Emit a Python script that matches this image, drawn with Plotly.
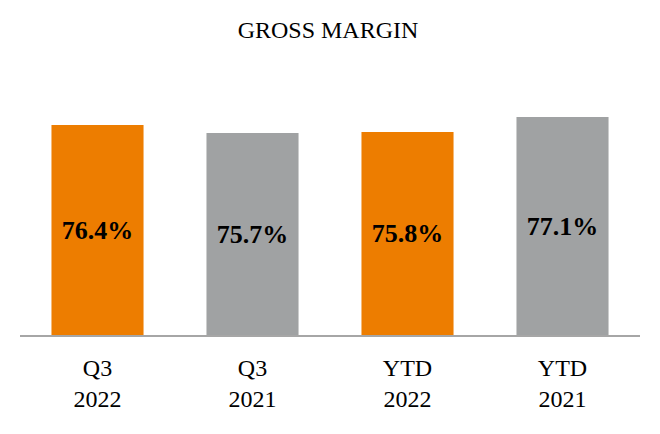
import plotly.graph_objects as go

categories = ["Q3 2022", "Q3 2021", "YTD 2022", "YTD 2021"]
tick_labels = ["Q3<br>2022", "Q3<br>2021", "YTD<br>2022", "YTD<br>2021"]
values = [76.4, 75.7, 75.8, 77.1]
colors = ["#ED7D00", "#A0A2A3", "#ED7D00", "#A0A2A3"]
axis_min = 58.0

SERIF = "Liberation Serif, Times New Roman, Tinos, serif"

fig = go.Figure(
    go.Bar(
        x=categories,
        y=[v - axis_min for v in values],
        base=axis_min,
        marker=dict(color=colors, line=dict(width=0)),
        text=[f"<b>{v:.1f}%</b>" for v in values],
        textposition="inside",
        insidetextanchor="middle",
        textangle=0,
        textfont=dict(family=SERIF, size=26, color="black"),
        width=0.594,
        hoverinfo="skip",
    )
)

fig.update_layout(
    width=660,
    height=434,
    margin=dict(l=20, r=20, t=84, b=99),
    paper_bgcolor="white",
    plot_bgcolor="white",
    showlegend=False,
    title=dict(
        text="GROSS MARGIN",
        x=0.497,
        xanchor="center",
        y=1 - 30 / 434,
        yanchor="middle",
        font=dict(family=SERIF, size=24, color="black"),
    ),
    font=dict(family=SERIF, color="black"),
)

fig.update_xaxes(
    tickvals=categories,
    ticktext=tick_labels,
    tickfont=dict(family=SERIF, size=24, color="black"),
    showline=True,
    linecolor="#A6A6A6",
    linewidth=2,
    ticks="",
    showgrid=False,
    ticklabelstandoff=10,
)
fig.update_yaxes(range=[axis_min, 80], visible=False, showgrid=False)

fig.write_html(
    "out.html",
    config={"displayModeBar": False},
    post_script="document.body.style.margin='0';document.body.style.padding='0';",
)
